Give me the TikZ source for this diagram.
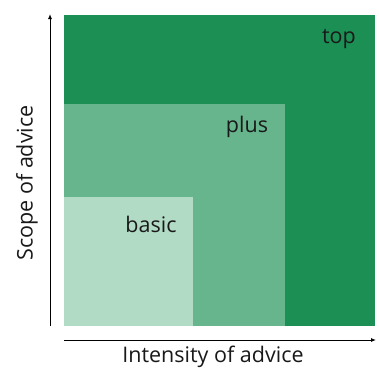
\documentclass[tikz,border=0pt]{standalone}
\usepackage{fontspec}
\setmainfont{Open Sans}
\usetikzlibrary{arrows.meta}

\definecolor{topgreen}{HTML}{1B8F54}
\definecolor{plusgreen}{HTML}{66B58D}
\definecolor{basicgreen}{HTML}{B2DBC6}

\begin{document}
\begin{tikzpicture}[x=1pt, y=-1pt, lbl/.style={font=\fontsize{21.5}{24}\selectfont, text=black!90, inner sep=0pt}, axis/.style={-{Latex[length=5pt, width=4pt]}, line width=0.9pt}]
            \useasboundingbox (0,0) rectangle (379,372);
            % levels
            \fill[topgreen] (64,15) rectangle (375,326);
            \fill[plusgreen] (64,104) rectangle (285,326);
            \fill[basicgreen] (64,197) rectangle (193,326);
            % labels
            \node[lbl] (top) at (339,39) {top};
            \node[lbl] (plus) at (247,127) {plus};
            \node[lbl] (basic) at (151,224) {basic};
            % axes
            \coordinate (y0) at (50,326);
            \coordinate (y1) at (50,14);
            \coordinate (x0) at (64,340);
            \coordinate (x1) at (376,340);
            \draw[axis] (y0) -- (y1);
            \draw[axis] (x0) -- (x1);
            \node[lbl, rotate=90] (scope) at (27,183) {Scope of advice};
            \node[lbl] (intensity) at (213,357) {Intensity of advice};
        \end{tikzpicture}
\end{document}
